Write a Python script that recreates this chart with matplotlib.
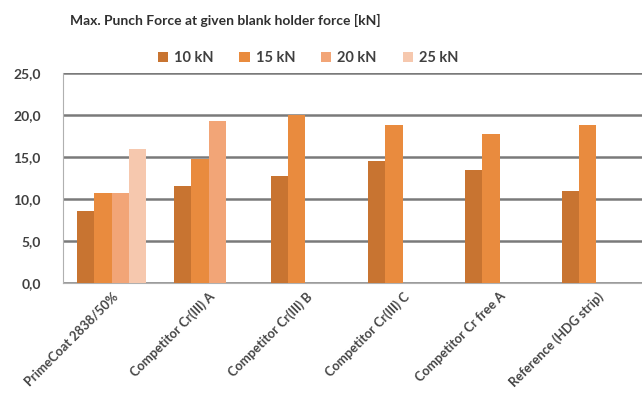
import matplotlib.pyplot as plt
import numpy as np

plt.rcParams['font.family'] = ['Lato', 'DejaVu Sans']

categories = ['PrimeCoat 2838/50%', 'Competitor Cr(III) A', 'Competitor Cr(III) B',
              'Competitor Cr(III) C', 'Competitor Cr free A', 'Reference (HDG strip)']
series_names = ['10 kN', '15 kN', '20 kN', '25 kN']
f10 = [8.6, 11.5, 12.7, 14.5, 13.5, 11.0]
f15 = [10.7, 14.8, 20.0, 18.8, 17.7, 18.8]
f20 = [10.7, 19.3, np.nan, np.nan, np.nan, np.nan]
f25 = [16.0, np.nan, np.nan, np.nan, np.nan, np.nan]
colors = ['#C87431', '#E98B3E', '#F2A577', '#F6C8AE']

fig = plt.figure(figsize=(6.42, 4.01), dpi=100)
ax = fig.add_axes([63 / 642, 1 - 283 / 401, 582 / 642, 210 / 401])

x = np.arange(len(categories))
w = 0.18
for i, (vals, name) in enumerate(zip([f10, f15, f20, f25], series_names)):
    ax.bar(x + (i - 1.5) * w, vals, width=w, color=colors[i], label=name, zorder=3)

ax.set_xlim(-0.5, len(categories) - 0.5)
ax.set_ylim(0, 25)
ax.set_yticks([0, 5, 10, 15, 20, 25])
ax.set_yticklabels(['0,0', '5,0', '10,0', '15,0', '20,0', '25,0'],
                   fontsize=10, fontweight='bold', color='#404040')
ax.yaxis.grid(True, color='#7a7a7a', linewidth=1.8, zorder=0)
ax.tick_params(axis='y', length=0, pad=16)
ax.tick_params(axis='x', length=0, pad=5)
ax.set_xticks(x)
ax.set_xticklabels(categories, rotation=45, ha='right', rotation_mode='anchor',
                   fontsize=9.3, fontweight='bold', color='#454545')
for s in ['top', 'right']:
    ax.spines[s].set_visible(False)
ax.spines['left'].set_color('#b0b0b0')
ax.spines['bottom'].set_color('#b0b0b0')

fig.text(225 / 642, 1 - 20 / 401, 'Max. Punch Force at given blank holder force [kN]',
         ha='center', va='center', fontsize=10, fontweight='bold', color='#303030')
fig.legend(loc='center', bbox_to_anchor=(308 / 642, 1 - 58 / 401), ncol=4, frameon=False,
           prop={'size': 10.5, 'weight': 'bold'}, handlelength=0.7, handleheight=0.7,
           handletextpad=0.4, columnspacing=1.8, labelcolor='#404040')

fig.savefig('out.png', dpi=100)
